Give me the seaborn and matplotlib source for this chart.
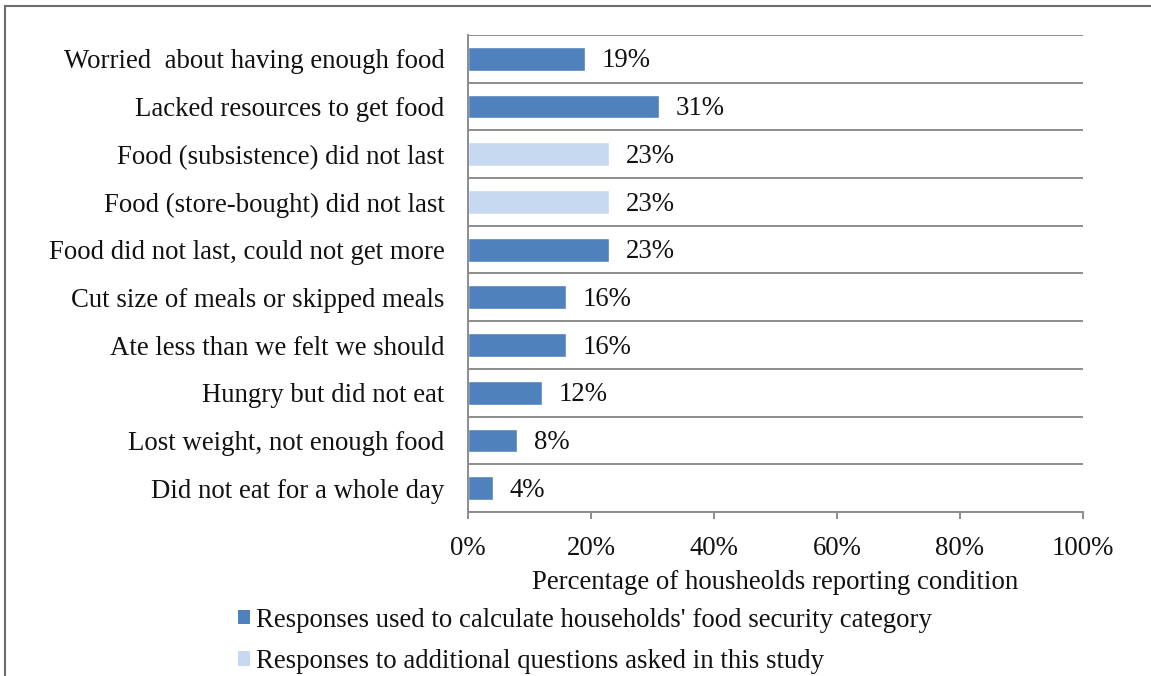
import matplotlib
matplotlib.use("Agg")
import matplotlib.pyplot as plt
from matplotlib.patches import Patch, Rectangle
from matplotlib.ticker import FixedLocator, PercentFormatter
import seaborn as sns
import pandas as pd

categories = [
    "Worried  about having enough food",
    "Lacked resources to get food",
    "Food (subsistence) did not last",
    "Food (store-bought) did not last",
    "Food did not last, could not get more",
    "Cut size of meals or skipped meals",
    "Ate less than we felt we should",
    "Hungry but did not eat",
    "Lost weight, not enough food",
    "Did not eat for a whole day",
]
values = [19, 31, 23, 23, 23, 16, 16, 12, 8, 4]
groups = ["core", "core", "extra", "extra", "core", "core", "core", "core", "core", "core"]
group_labels = {
    "core": "Responses used to calculate households' food security category",
    "extra": "Responses to additional questions asked in this study",
}
group_colors = {"core": "#4F81BD", "extra": "#C6D9F1"}

df = pd.DataFrame({"item": categories, "pct": values, "group": groups})

FS = 19.3
TXT = "#111111"

sns.set_theme(style="white")
plt.rcParams["font.family"] = ["Liberation Serif", "DejaVu Serif"]

fig = plt.figure(figsize=(11.51, 6.76), dpi=100)
ax = fig.add_axes([468 / 1151, 1 - 512 / 676, (1083 - 468) / 1151, (512 - 35) / 676])

sns.barplot(data=df, y="item", x="pct", hue="group", palette=group_colors,
            order=categories, hue_order=["core", "extra"], dodge=False,
            width=0.5, saturation=1, legend=False, ax=ax, orient="h")

for cont in ax.containers:
    anns = ax.bar_label(cont, labels=[f"{v:.0f}%" if v == v else "" for v in cont.datavalues],
                        padding=12, fontsize=FS, color=TXT)
    for a in anns:
        a.xyann = (12, -1.5)

ax.set_xlim(0, 100)
ax.set_ylim(len(categories) - 0.5, -0.5)
ax.set_xticks([0, 20, 40, 60, 80, 100])
ax.xaxis.set_major_formatter(PercentFormatter(decimals=0))
ax.yaxis.set_minor_locator(FixedLocator([i - 0.5 for i in range(len(categories) + 1)]))
ax.grid(which="minor", axis="y", color="#8c8c8c", linewidth=1.4)
ax.grid(which="major", visible=False)
ax.set_axisbelow(True)

for s in ["top", "right"]:
    ax.spines[s].set_visible(False)
for s in ["left", "bottom"]:
    ax.spines[s].set_color("#8c8c8c")
    ax.spines[s].set_linewidth(1.4)

ax.tick_params(axis="y", which="both", length=0, pad=17, labelsize=FS, labelcolor=TXT)
ax.tick_params(axis="x", which="major", direction="out", length=5, width=1.4,
               color="#8c8c8c", pad=12, labelsize=FS, labelcolor=TXT, bottom=True)
ax.set_ylabel("")
ax.set_xlabel("Percentage of housheolds reporting condition", fontsize=FS,
              color=TXT, labelpad=7)

handles = [Patch(facecolor=group_colors[g], edgecolor="none", label=group_labels[g])
           for g in ["core", "extra"]]
fig.legend(handles=handles, loc="upper left", bbox_to_anchor=(219 / 1151, 1 - 589 / 676),
           frameon=False, fontsize=FS, handlelength=0.45, handleheight=0.45,
           handletextpad=0.22, labelspacing=0.6, labelcolor=TXT, borderpad=0.2)

fig.patches.append(Rectangle((4.5 / 1151, -0.1), 1.2, 1 - 6 / 676 + 0.1,
                             transform=fig.transFigure, fill=False,
                             edgecolor="#6e6e6e", linewidth=1.5))

fig.savefig("out.png", dpi=100)
